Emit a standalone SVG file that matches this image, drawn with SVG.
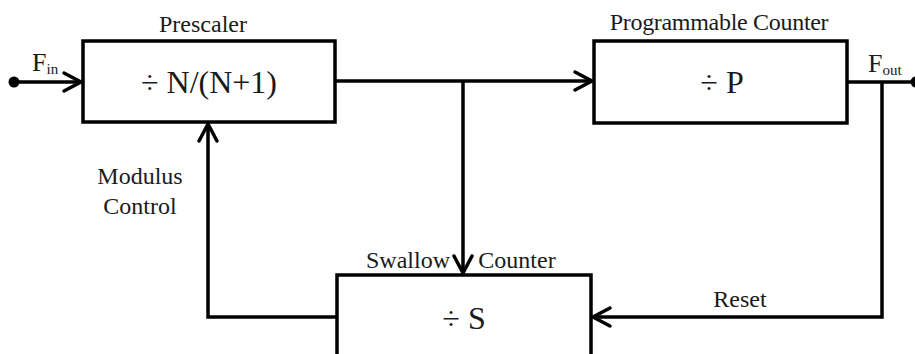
<svg xmlns="http://www.w3.org/2000/svg" width="915" height="354" viewBox="0 0 915 354">
<style>
.box{fill:#fff;stroke:#000;stroke-width:3.5}
.ln{fill:none;stroke:#000;stroke-width:3.5}
.ah{fill:none;stroke:#000;stroke-width:3.5;stroke-linecap:round;stroke-linejoin:miter}
text{font-family:"Liberation Serif","Times New Roman",serif;fill:#1a1a1a}
.lbl{font-size:24px}
.big{font-size:32px}
.f{font-size:26px}
.sub{font-size:15px}
</style>
<g id="prescaler">
<rect class="box" x="83" y="41" width="252" height="81"/>
<text class="big" x="209" y="93" text-anchor="middle">÷ N/(N+1)</text>
<text class="lbl" x="203" y="32" text-anchor="middle">Prescaler</text>
</g>
<g id="programmable">
<rect class="box" x="594" y="41" width="253" height="82"/>
<text class="big" x="722" y="93" text-anchor="middle">÷ P</text>
<text class="lbl" x="719" y="30" text-anchor="middle" letter-spacing="-0.3">Programmable Counter</text>
</g>
<g id="swallow">
<rect class="box" x="337" y="275" width="254" height="90"/>
<text class="big" x="464" y="329" text-anchor="middle">÷ S</text>
<text class="lbl" x="408" y="268" text-anchor="middle">Swallow</text>
<text class="lbl" x="517" y="268" text-anchor="middle">Counter</text>
</g>
<g id="labels">
<text class="f" x="32" y="71">F<tspan class="sub" dy="3">in</tspan></text>
<text class="f" x="868" y="72">F<tspan class="sub" dy="3">out</tspan></text>
<text class="lbl" x="140" y="184" text-anchor="middle">Modulus</text>
<text class="lbl" x="140" y="214" text-anchor="middle">Control</text>
<text class="lbl" x="740" y="307" text-anchor="middle">Reset</text>
</g>
<g id="connectors">
<circle cx="14" cy="82" r="5.5" fill="#000"/>
<circle cx="916" cy="82" r="5.5" fill="#000"/>
<path class="ln" d="M14 82 H81"/>
<path class="ah" d="M64 73 L81 82 L64 91"/>
<path class="ln" d="M335 81 H592"/>
<path class="ah" d="M575 72 L592 81 L575 90"/>
<path class="ln" d="M463 81 V273"/>
<path class="ah" d="M454 256 L463 273 L472 256"/>
<path class="ln" d="M847 82 H916"/>
<path class="ln" d="M882 82 V317 H593"/>
<path class="ah" d="M610 308 L593 317 L610 326"/>
<path class="ln" d="M337 317 H208 V124"/>
<path class="ah" d="M199 141 L208 124 L217 141"/>
</g>
</svg>
